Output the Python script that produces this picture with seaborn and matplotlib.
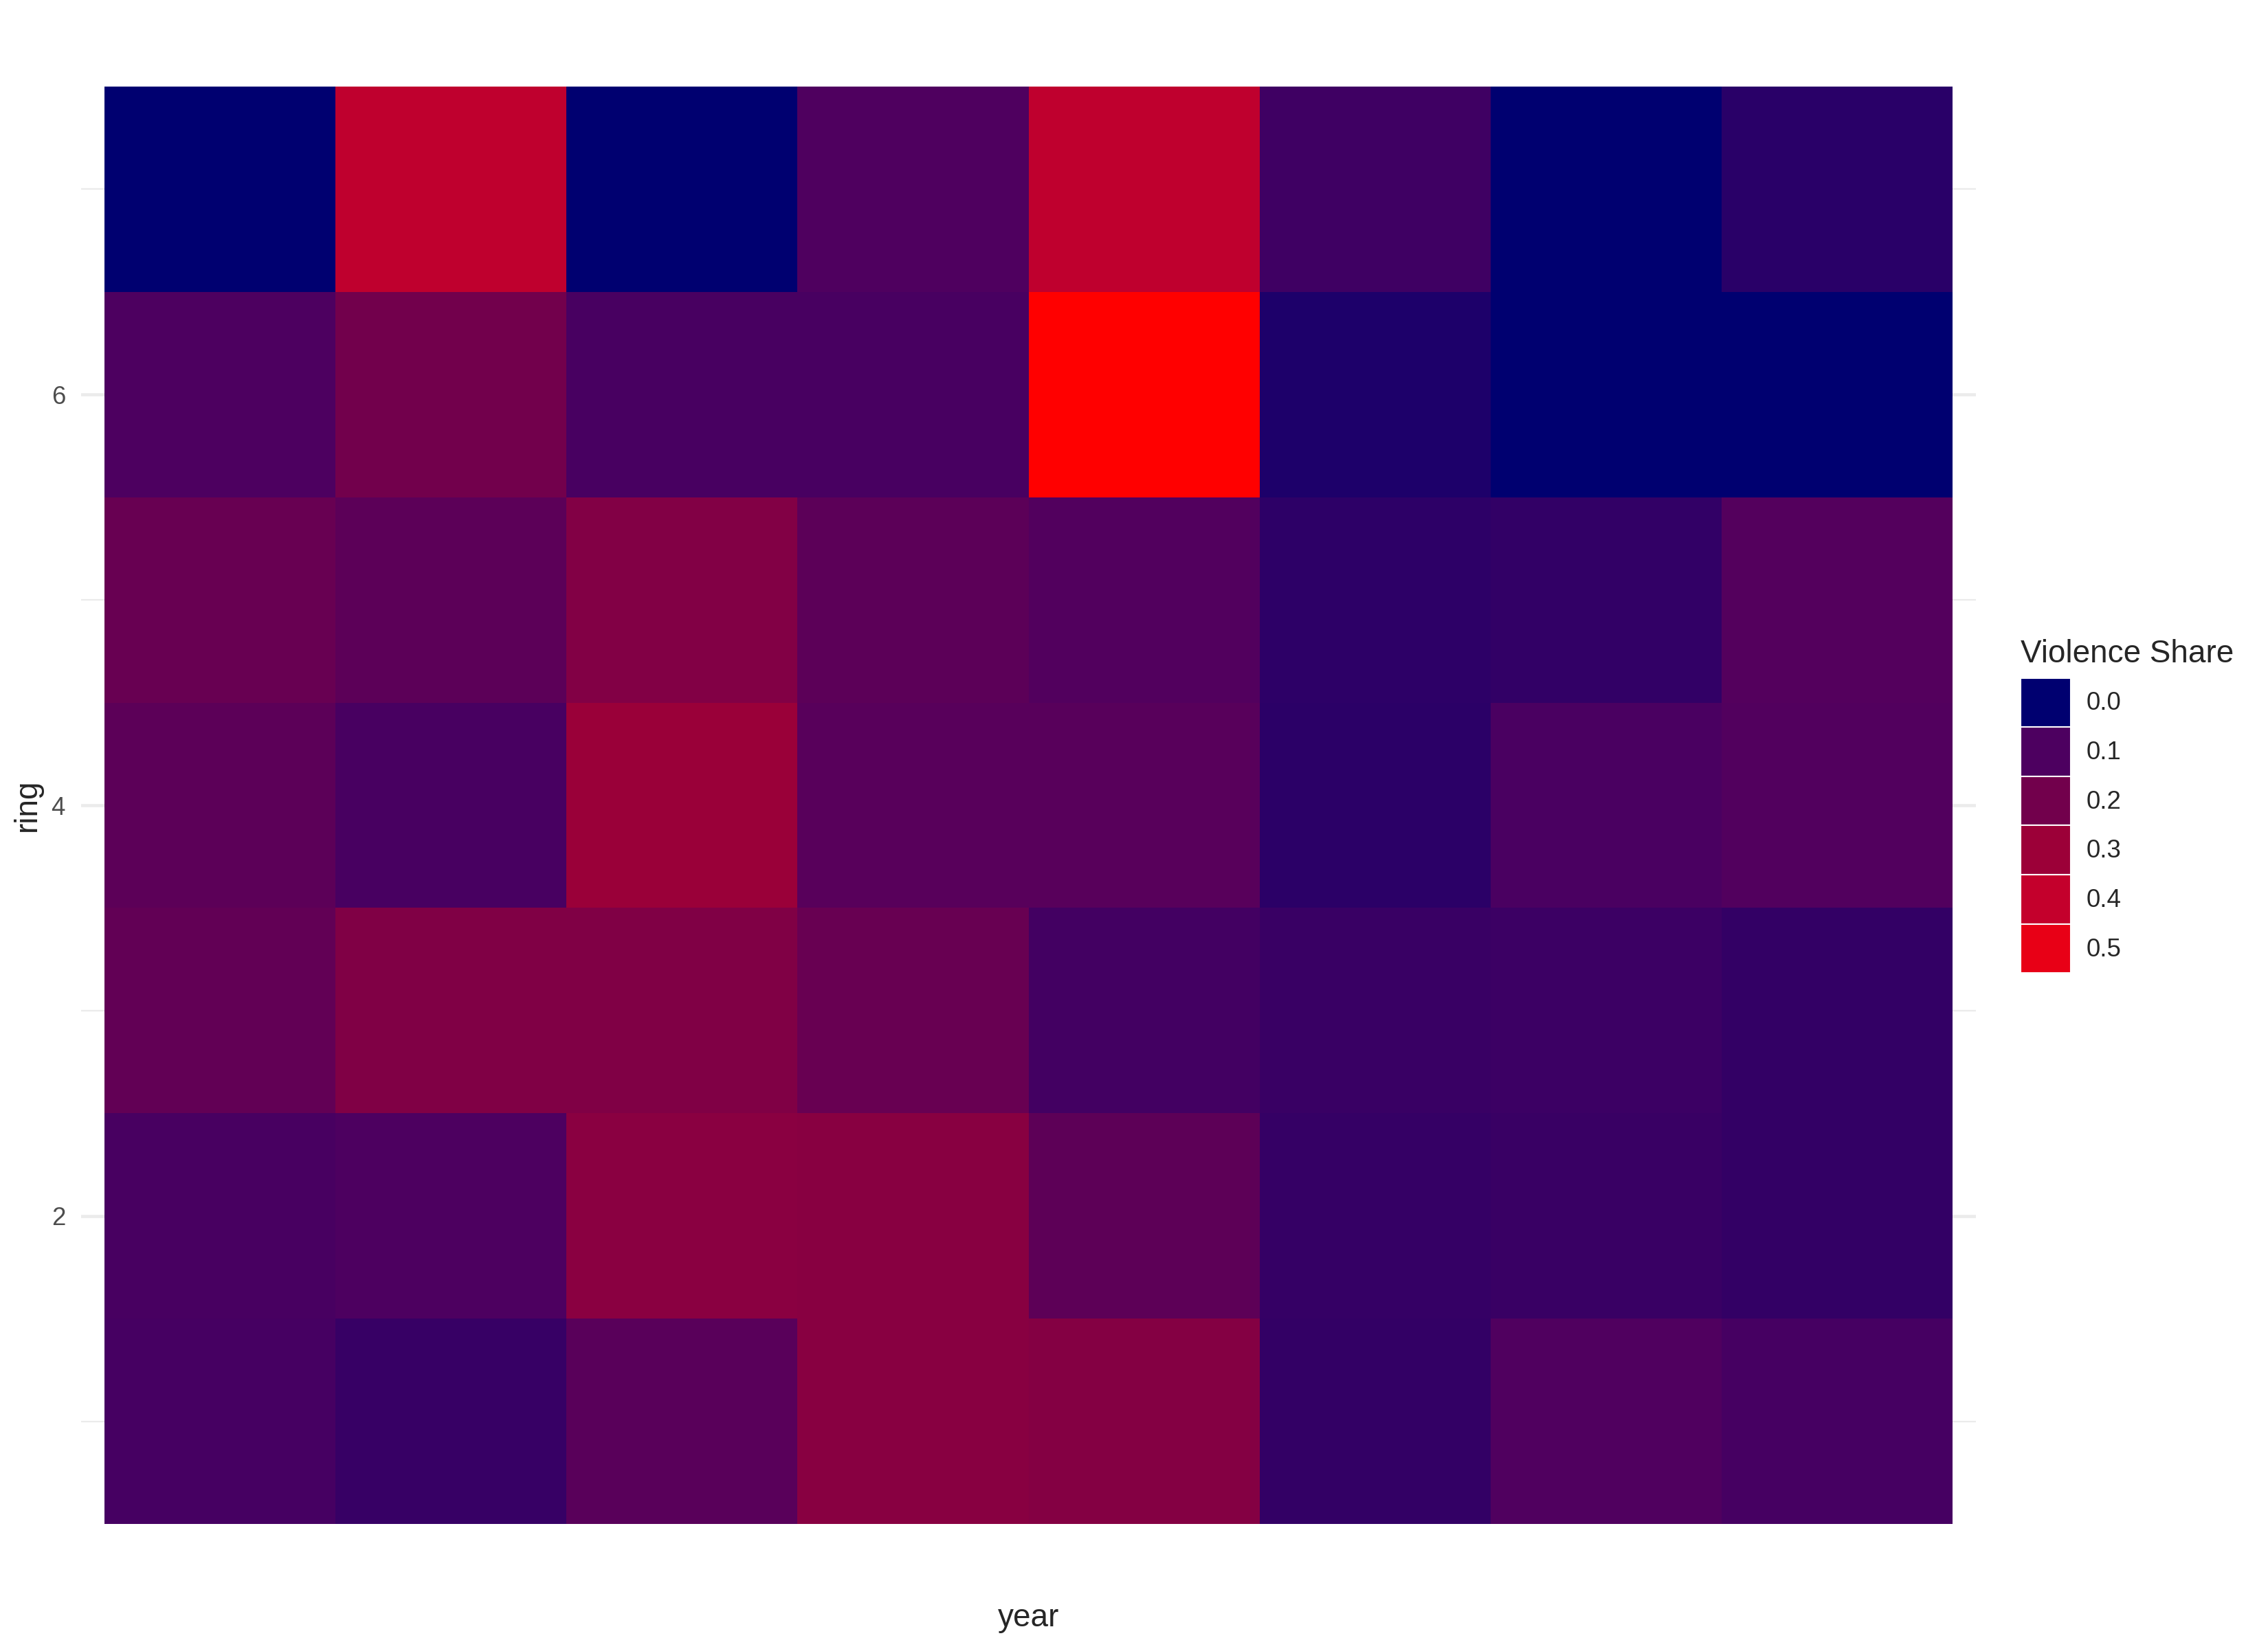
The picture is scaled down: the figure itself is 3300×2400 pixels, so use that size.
import numpy as np
import pandas as pd
import matplotlib
matplotlib.use("Agg")
import matplotlib.pyplot as plt
import seaborn as sns
from matplotlib.colors import LinearSegmentedColormap, Normalize
from matplotlib.patches import Patch

# Data (rings 1..7, eight years)
years = [2016, 2017, 2018, 2019, 2020, 2021, 2022, 2023]
rings = [1, 2, 3, 4, 5, 6, 7]
ring1 = [0.090, 0.072, 0.133, 0.252, 0.243, 0.067, 0.106, 0.090]
ring2 = [0.092, 0.100, 0.257, 0.252, 0.144, 0.069, 0.074, 0.067]
ring3 = [0.156, 0.233, 0.233, 0.172, 0.087, 0.074, 0.077, 0.067]
ring4 = [0.139, 0.092, 0.295, 0.128, 0.128, 0.056, 0.095, 0.111]
ring5 = [0.172, 0.139, 0.238, 0.139, 0.111, 0.059, 0.064, 0.117]
ring6 = [0.100, 0.200, 0.092, 0.092, 0.560, 0.038, 0.0, 0.0]
ring7 = [0.0, 0.385, 0.0, 0.105, 0.385, 0.082, 0.0, 0.054]
legend_breaks = [0.0, 0.1, 0.2, 0.3, 0.4, 0.5]

vmin, vmax = 0.0, 0.56

# navy -> red gradient, anchored on the legend colours
cmap = LinearSegmentedColormap.from_list(
    "violence",
    [(0.0, "#000070"), (0.1 / vmax, "#4E0060"), (0.2 / vmax, "#72004C"),
     (0.3 / vmax, "#9C0038"), (0.4 / vmax, "#C4002C"), (0.5 / vmax, "#E80016"),
     (1.0, "#FF0000")],
)
norm = Normalize(vmin, vmax)

grid = pd.DataFrame([ring7, ring6, ring5, ring4, ring3, ring2, ring1],
                    index=rings[::-1], columns=years)

sns.set_theme(style="white")
plt.rcParams["font.family"] = ["Liberation Sans", "DejaVu Sans"]

fig = plt.figure(figsize=(11, 8), dpi=300)
ax = fig.add_axes([118 / 3300, 1 - 2218 / 2400, (2875 - 118) / 3300, (2218 - 126) / 2400])

sns.heatmap(grid, cmap=cmap, vmin=vmin, vmax=vmax, cbar=False, ax=ax,
            linewidths=0, xticklabels=False, yticklabels=False)

ax.set_xlim(-0.1, 8.1)
ax.set_ylim(7, 0)
# ring r sits at row (7 - r) + 0.5 in heatmap coordinates
major = [2, 4, 6]
minor = [1, 3, 5, 7]
ax.set_yticks([7 - r + 0.5 for r in major])
ax.set_yticklabels([str(r) for r in major], fontsize=8.8, color="#4D4D4D")
ax.set_yticks([7 - r + 0.5 for r in minor], minor=True)
ax.tick_params(axis="y", which="both", length=0, pad=5.5)
ax.set_xticks([])
ax.set_axisbelow(True)
ax.grid(False)
for r in major:
    ax.axhline(7 - r + 0.5, color="#EBEBEB", lw=1.1, zorder=0)
for r in minor:
    ax.axhline(7 - r + 0.5, color="#EBEBEB", lw=0.55, zorder=0)
for s in ax.spines.values():
    s.set_visible(False)

ax.set_xlabel("year", fontsize=11, labelpad=27.5)
ax.set_ylabel("ring", fontsize=11, labelpad=3)

handles = [Patch(facecolor=cmap(norm(b)), edgecolor="white", linewidth=0.5) for b in legend_breaks]
leg = fig.legend(handles, [f"{b:.1f}" for b in legend_breaks], title="Violence Share",
                 loc="upper left", bbox_to_anchor=(2940 / 3300, 1 - 930 / 2400),
                 frameon=False, fontsize=8.8, title_fontsize=11,
                 handlelength=2.0, handleheight=2.63, labelspacing=0.0,
                 handletextpad=0.6, borderpad=0, borderaxespad=0, alignment="left")
leg._legend_box.sep = 3

fig.savefig("out.png", dpi=300, facecolor="white")
